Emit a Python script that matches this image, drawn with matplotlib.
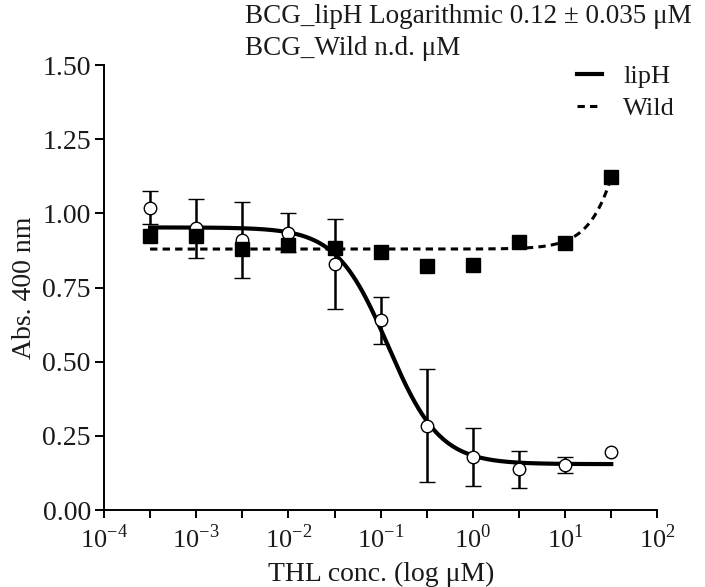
import numpy as np
import matplotlib.pyplot as plt

plt.rcParams['font.family'] = ['Liberation Serif', 'DejaVu Serif']
plt.rcParams['mathtext.fontset'] = 'custom'
plt.rcParams['mathtext.rm'] = 'Liberation Serif'

# THL concentration (uM), half-log steps
conc = [3.16e-4, 1e-3, 3.16e-3, 1e-2, 3.16e-2, 1e-1, 3.16e-1, 1.0, 3.16, 10.0, 31.6]

lipH_mean = [1.02, 0.95, 0.91, 0.935, 0.83, 0.64, 0.285, 0.178, 0.137, 0.152, 0.196]
lipH_err = [0.056, 0.10, 0.127, 0.065, 0.153, 0.079, 0.19, 0.098, 0.063, 0.027, np.nan]

wild_mean = [0.925, 0.925, 0.88, 0.895, 0.883, 0.87, 0.822, 0.826, 0.903, 0.90, 1.122]

# fitted curve parameters (top, bottom, EC50, hill)
lipH_fit = [0.953, 0.155, 0.12, -1.55]
wild_fit = [3.0, 0.88, 88.0, 2.0]

xticks = [1e-4, 1e-3, 1e-2, 1e-1, 1e0, 1e1, 1e2]
xlabels = ['$10^{-4}$', '$10^{-3}$', '$10^{-2}$', '$10^{-1}$', '$10^{0}$', '$10^{1}$', '$10^{2}$']
yticks = [0.0, 0.25, 0.5, 0.75, 1.0, 1.25, 1.5]


def logistic(x, p):
    top, bottom, ec, h = p
    return bottom + (top - bottom) / (1 + (ec / x) ** h)


fig = plt.figure(figsize=(7.05, 5.87), dpi=100)
ax = fig.add_axes([0.1475, 0.131, 0.785, 0.758])

xf = np.logspace(np.log10(conc[0]), np.log10(conc[-1]), 400)
ax.plot(xf, logistic(xf, lipH_fit), color='black', lw=3.0, zorder=3, label='lipH')
ax.plot(xf, logistic(xf, wild_fit), color='black', lw=2.2,
        dashes=(2.4, 1.7), zorder=3, label='Wild')

ax.errorbar(conc, lipH_mean, yerr=lipH_err, fmt='o', color='black',
            mfc='white', mec='black', ms=9, mew=1.0, ecolor='black',
            elinewidth=1.8, capsize=5.5, capthick=1.8, zorder=4)
ax.plot(conc, wild_mean, 's', color='black', ms=10, zorder=5)

ax.set_xscale('log')
ax.set_xlim(1e-4, 1e2)
ax.set_ylim(0, 1.5)
ax.set_xticks(xticks)
ax.set_xticklabels(xlabels)
ax.set_xticks([10 ** (k + 0.5) for k in range(-4, 2)], minor=True)
ax.set_xticklabels([], minor=True)
ax.set_yticks(yticks)
ax.set_yticklabels(['%.2f' % v for v in yticks])

ax.spines['right'].set_visible(False)
ax.spines['top'].set_visible(False)
ax.spines['left'].set_linewidth(1.4)
ax.spines['bottom'].set_linewidth(1.4)
ax.tick_params(axis='y', which='both', direction='out', width=1.4,
               length=6.5, labelsize=20, pad=3, labelcolor='#1a1a1a')
ax.tick_params(axis='x', which='both', direction='out', width=1.4,
               length=5.5, labelsize=19, pad=5, labelcolor='#1a1a1a')

ax.set_xlabel('THL conc. (log μM)', fontsize=20, labelpad=6, color='#1a1a1a')
ax.set_ylabel('Abs. 400 nm', fontsize=20, labelpad=4, color='#1a1a1a')

fig.text(0.347, 0.972, 'BCG_lipH Logarithmic 0.12 ± 0.035 μM', fontsize=19.5,
         va='center', ha='left', color='#1a1a1a')
fig.text(0.347, 0.918, 'BCG_Wild n.d. μM', fontsize=19.5, va='center',
         ha='left', color='#1a1a1a')

leg = ax.legend(loc='upper left', bbox_to_anchor=(577 / 705, 1 - 65 / 587),
                bbox_transform=fig.transFigure, frameon=False, borderpad=0,
                borderaxespad=0, fontsize=19, handlelength=0.95,
                handletextpad=0.8, labelspacing=0.3)
for t in leg.get_texts():
    t.set_color('#1a1a1a')

fig.savefig('out.png', dpi=100)
